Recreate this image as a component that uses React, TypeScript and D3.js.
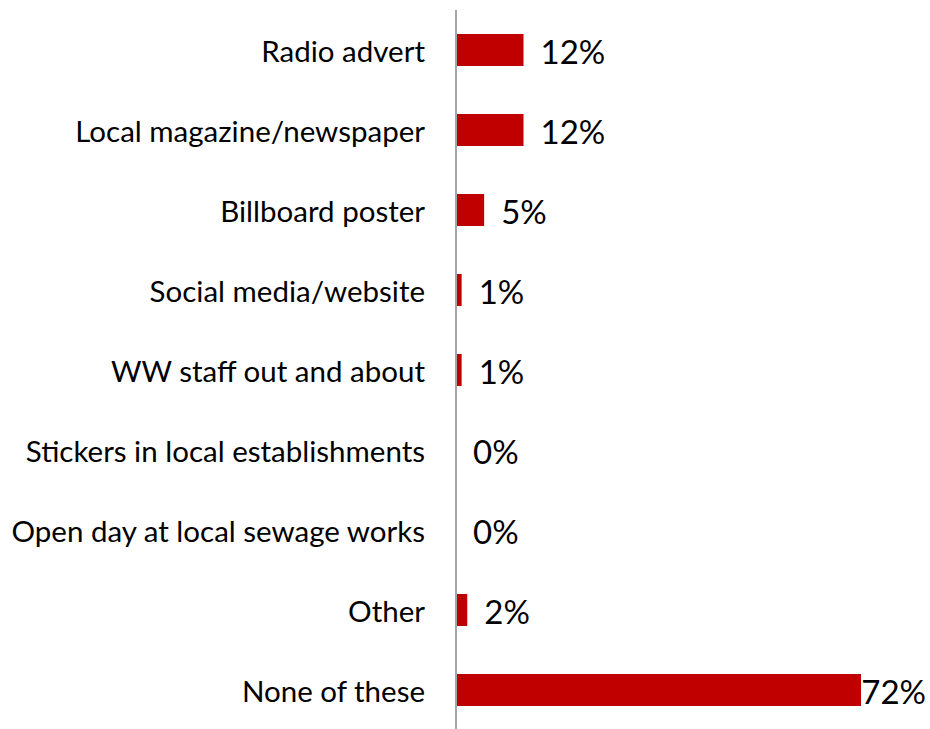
import React from "react";
import * as d3 from "d3";

const categories = [
  "Radio advert",
  "Local magazine/newspaper",
  "Billboard poster",
  "Social media/website",
  "WW staff out and about",
  "Stickers in local establishments",
  "Open day at local sewage works",
  "Other",
  "None of these",
];
const values = [12, 12, 5, 1, 1, 0, 0, 2, 72];
const valueLabels = ["12%", "12%", "5%", "1%", "1%", "0%", "0%", "2%", "72%"];

const W = 930;
const H = 729;
const FONT = "Lato, 'Open Sans', sans-serif";

export default function App() {
  const x = d3.scaleLinear().domain([0, 80]).range([456, 906]);
  const y = d3.scaleBand<string>().domain(categories).range([10, 730]).paddingInner(0.6).paddingOuter(0.3);
  const labelFont = 33;
  return (
    <svg width={W} height={H} style={{ position: "absolute", left: 0, top: 0, background: "#fff" }}>
      {categories.map((c, i) => {
        const yc = (y(c) as number) + y.bandwidth() / 2;
        const xEnd = x(values[i]);
        const approxW = valueLabels[i].length * labelFont * 0.63;
        const overflow = xEnd + 17 + approxW > W - 3;
        return (
          <g key={c}>
            <rect x={x(0)} y={y(c)} width={xEnd - x(0)} height={y.bandwidth()} fill="#C00000" />
            <text x={425} y={yc} textAnchor="end" dominantBaseline="central" fontFamily={FONT} fontSize={29.5} fill="#000">
              {c}
            </text>
            <text
              x={overflow ? W - 4 : xEnd + 17}
              y={yc + 1}
              textAnchor={overflow ? "end" : "start"}
              dominantBaseline="central"
              fontFamily={FONT}
              fontSize={labelFont}
              fill="#000"
            >
              {valueLabels[i]}
            </text>
          </g>
        );
      })}
      <line x1={x(0)} x2={x(0)} y1={10} y2={H} stroke="#A6A6A6" strokeWidth={2} />
    </svg>
  );
}
